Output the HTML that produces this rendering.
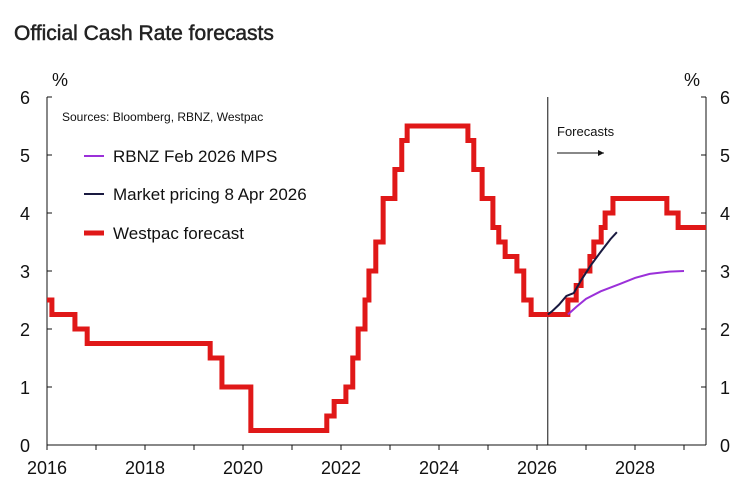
<!DOCTYPE html>
<html><head><meta charset="utf-8"><style>
body{margin:0;background:#fff;width:751px;height:498px;overflow:hidden;font-family:"Liberation Sans",sans-serif}
</style></head><body>
<svg width="751" height="498" font-family="Liberation Sans, sans-serif">
<text x="14" y="40" font-size="21" fill="#222" stroke="#222" stroke-width="0.5">Official Cash Rate forecasts</text>
<g id="axes"></g>
<g id="series"></g>
<text x="62" y="121" font-size="12" fill="#111">Sources: Bloomberg, RBNZ, Westpac</text>
<text x="557" y="136" font-size="13" fill="#111">Forecasts</text>
<line x1="557" y1="153" x2="604" y2="153" stroke="#111" stroke-width="1"/>
<path d="M604,153 l-6,-3 l0,6 z" fill="#111"/>
<g>
<line x1="84" y1="156" x2="104" y2="156" stroke="#9b30d9" stroke-width="2"/>
<text x="113" y="162" font-size="17" fill="#111">RBNZ Feb 2026 MPS</text>
<line x1="84" y1="194" x2="104" y2="194" stroke="#1a1a40" stroke-width="2"/>
<text x="113" y="200" font-size="17" fill="#111">Market pricing 8 Apr 2026</text>
<line x1="84" y1="233" x2="104" y2="233" stroke="#e01818" stroke-width="5"/>
<text x="113" y="239" font-size="17" fill="#111">Westpac forecast</text>
</g>
</svg>
<script>
const wpDates=[2016.0,2016.1,2016.57,2016.82,2019.33,2019.57,2020.16,2021.71,2021.86,2022.1,2022.24,2022.35,2022.49,2022.57,2022.71,2022.86,2023.1,2023.24,2023.35,2024.59,2024.71,2024.88,2025.1,2025.22,2025.35,2025.59,2025.73,2025.88,2026.63,2026.8,2026.9,2027.08,2027.16,2027.31,2027.39,2027.55,2028.65,2028.88];
const wpValues=[2.5,2.25,2.0,1.75,1.5,1.0,0.25,0.5,0.75,1.0,1.5,2.0,2.5,3.0,3.5,4.25,4.75,5.25,5.5,5.25,4.75,4.25,3.75,3.5,3.25,3.0,2.5,2.25,2.5,2.75,3.0,3.25,3.5,3.75,4.0,4.25,4.0,3.75];
const wpEnd=2029.45;
const mktDates=[2026.22,2026.3,2026.45,2026.6,2026.75,2026.9,2027.1,2027.3,2027.5,2027.63];
const mktValues=[2.25,2.3,2.42,2.57,2.62,2.84,3.1,3.33,3.55,3.67];
const rbnzDates=[2026.63,2026.8,2027.0,2027.3,2027.7,2028.0,2028.3,2028.7,2029.0];
const rbnzValues=[2.25,2.38,2.52,2.65,2.78,2.88,2.95,2.99,3.0];
const yTicks=[0,1,2,3,4,5,6];
const xLabels=[2016,2018,2020,2022,2024,2026,2028];
const NS='http://www.w3.org/2000/svg';
const X0=47,X1=706,Y0=445,Y6=97;
const xs=y=>X0+(y-2016)*49;
const ys=v=>Y0-(v/6)*(Y0-Y6);
function mk(tag,attrs,parent){const e=document.createElementNS(NS,tag);for(const k in attrs)e.setAttribute(k,attrs[k]);parent.appendChild(e);return e;}
const ax=document.getElementById('axes'),se=document.getElementById('series');
let l=mk('line',{x1:X0,y1:Y6,x2:X0,y2:Y0,stroke:'#111'},ax);

l=mk('line',{x1:X1,y1:Y6,x2:X1,y2:Y0,stroke:'#111'},ax);

l=mk('line',{x1:X0,y1:Y0,x2:X1,y2:Y0,stroke:'#111'},ax);

l=mk('line',{x1:xs(2026.22),y1:Y6,x2:xs(2026.22),y2:Y0,stroke:'#111'},ax);

yTicks.forEach(v=>{
 let t=mk('line',{x1:X0,y1:ys(v),x2:X0+5,y2:ys(v),stroke:'#111'},ax);
 
 t=mk('line',{x1:X1-5,y1:ys(v),x2:X1,y2:ys(v),stroke:'#111'},ax);
 
 let tx=mk('text',{x:30,y:ys(v)+7,'font-size':18,fill:'#111','text-anchor':'end'},ax);tx.textContent=v;
 
 tx=mk('text',{x:720,y:ys(v)+7,'font-size':18,fill:'#111'},ax);tx.textContent=v;
 
});
let u=mk('text',{x:52,y:86,'font-size':18,fill:'#111'},ax);u.textContent='%';

u=mk('text',{x:684,y:86,'font-size':18,fill:'#111'},ax);u.textContent='%';

for(let yr=2016;yr<=2029;yr++){
 const t=mk('line',{x1:xs(yr),y1:Y0,x2:xs(yr),y2:Y0+5,stroke:'#111'},ax);
 
}
xLabels.forEach(yr=>{
 const tx=mk('text',{x:xs(yr),y:Y0+29,'font-size':18,fill:'#111','text-anchor':'middle'},ax);tx.textContent=yr;
 
});
let d='';
wpDates.forEach((dt,i)=>{
 const x=xs(dt),y=ys(wpValues[i]);
 if(i===0)d+='M'+x+','+y;else d+='H'+x+'V'+y;
});
d+='H'+xs(wpEnd);
let p=mk('path',{d:d,fill:'none',stroke:'#e01818','stroke-width':5,'stroke-linejoin':'miter'},se);

p=mk('polyline',{points:rbnzDates.map((dt,i)=>xs(dt)+','+ys(rbnzValues[i])).join(' '),fill:'none',stroke:'#9b30d9','stroke-width':2},se);

p=mk('polyline',{points:mktDates.map((dt,i)=>xs(dt)+','+ys(mktValues[i])).join(' '),fill:'none',stroke:'#1a1a40','stroke-width':2},se);

</script>
</body></html>
